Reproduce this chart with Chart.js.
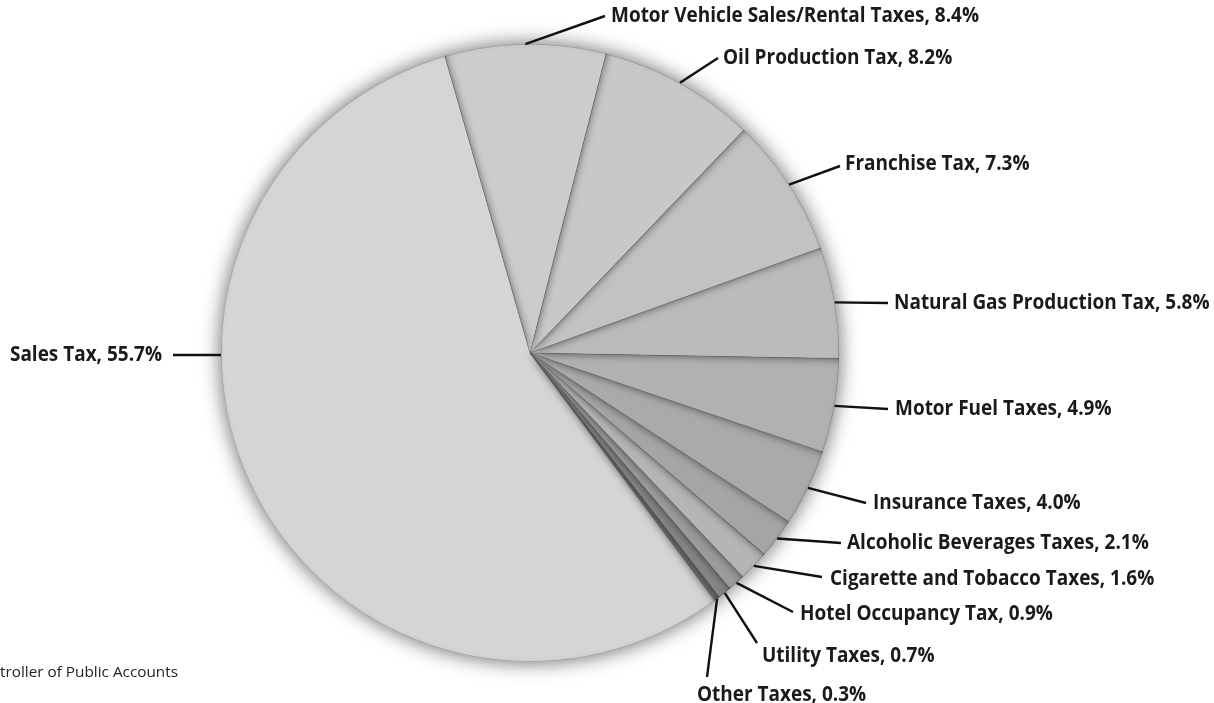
<!DOCTYPE html>
<html>
<head>
<meta charset="utf-8">
<script src="https://cdn.jsdelivr.net/npm/chart.js@4"></script>
<style>
  html, body { margin: 0; padding: 0; background: #ffffff; }
  #wrap { width: 1214px; height: 703px; }
</style>
</head>
<body>
<div id="wrap"><canvas id="pie" width="1214" height="703"></canvas></div>
<script>
// Tax revenue shares, clockwise from the top
const categories = [
  'Motor Vehicle Sales/Rental Taxes',
  'Oil Production Tax',
  'Franchise Tax',
  'Natural Gas Production Tax',
  'Motor Fuel Taxes',
  'Insurance Taxes',
  'Alcoholic Beverages Taxes',
  'Cigarette and Tobacco Taxes',
  'Hotel Occupancy Tax',
  'Utility Taxes',
  'Other Taxes',
  'Sales Tax'
];
const shares = [8.4, 8.2, 7.3, 5.8, 4.9, 4.0, 2.1, 1.6, 0.9, 0.7, 0.3, 55.7];
const sliceColors = [
  '#cbcccc', '#c7c8c8', '#c1c2c3', '#babbbc', '#b0b1b2', '#a9aaab',
  '#a4a5a6', '#b4b5b5', '#9a9b9c', '#858686', '#6b6c6c', '#d4d5d5'
];
// Callout layout: [lineEndX, lineEndY, textX, textY, align, attach]
// attach 'mid' = slice mid-angle on the rim, 'level' = rim point at the text's height
const calloutAnchors = [
  [605, 16, 611, 16, 'left', 'mid'],
  [718, 58, 723, 58, 'left', 'mid'],
  [840, 166, 845, 164, 'left', 'mid'],
  [888, 303, 894, 303, 'left', 'mid'],
  [888, 409, 895, 409, 'left', 'mid'],
  [866, 503, 873, 503, 'left', 'mid'],
  [841, 543, 847, 543, 'left', 'mid'],
  [822, 577, 830, 579, 'left', 'mid'],
  [793, 612, 800, 614, 'left', 'mid'],
  [757, 643, 762, 656, 'left', 'mid'],
  [707, 677, 697, 695, 'left', 'mid'],
  [173, 355, 162, 355, 'right', 'level']
];
const sourceNote = 'troller of Public Accounts';

const LABEL_FAMILY = '"Open Sans", "Noto Sans", sans-serif';
const LABEL_SIZE = 22;

function arcGeom(chart) {
  return chart.getDatasetMeta(0).data.map(a =>
    a.getProps(['x', 'y', 'startAngle', 'endAngle', 'outerRadius'], true));
}

function calloutText(i) {
  return categories[i] + ', ' + shares[i].toFixed(1) + '%';
}

const pieDecor = {
  id: 'pieDecor',
  beforeDatasetsDraw(chart) {
    const arcs = arcGeom(chart);
    if (!arcs.length) return;
    const { x, y, outerRadius } = arcs[0];
    const ctx = chart.ctx;
    // soft shadow around the whole pie
    ctx.save();
    ctx.shadowColor = 'rgba(0,0,0,0.6)';
    ctx.shadowBlur = 20;
    ctx.fillStyle = '#cfd0d0';
    ctx.beginPath();
    ctx.arc(x, y, outerRadius, 0, Math.PI * 2);
    ctx.fill();
    ctx.restore();
  },
  afterDatasetsDraw(chart) {
    const arcs = arcGeom(chart);
    const ctx = chart.ctx;
    // inner shadow along the leading edge of every slice
    arcs.forEach(a => {
      ctx.save();
      ctx.beginPath();
      ctx.moveTo(a.x, a.y);
      ctx.arc(a.x, a.y, a.outerRadius, a.startAngle, a.endAngle);
      ctx.closePath();
      ctx.clip();
      const R = a.outerRadius + 40;
      const s = a.startAngle;
      ctx.shadowColor = 'rgba(0,0,0,0.55)';
      ctx.shadowBlur = 9;
      ctx.fillStyle = '#000';
      ctx.beginPath();
      ctx.moveTo(a.x, a.y);
      ctx.lineTo(a.x + Math.cos(s) * R, a.y + Math.sin(s) * R);
      ctx.lineTo(a.x + Math.cos(s - 0.4) * R, a.y + Math.sin(s - 0.4) * R);
      ctx.closePath();
      ctx.fill();
      ctx.restore();
      // fine dividing line
      ctx.save();
      ctx.strokeStyle = 'rgba(90,90,90,0.45)';
      ctx.lineWidth = 0.8;
      ctx.beginPath();
      ctx.moveTo(a.x, a.y);
      ctx.lineTo(a.x + Math.cos(s) * a.outerRadius, a.y + Math.sin(s) * a.outerRadius);
      ctx.stroke();
      ctx.restore();
    });
    // rim darkening
    if (arcs.length) {
      const a = arcs[0];
      ctx.save();
      ctx.beginPath();
      ctx.arc(a.x, a.y, a.outerRadius, 0, Math.PI * 2);
      ctx.clip();
      ctx.shadowColor = 'rgba(0,0,0,0.35)';
      ctx.shadowBlur = 5;
      ctx.strokeStyle = 'rgba(0,0,0,0.25)';
      ctx.lineWidth = 1.5;
      ctx.beginPath();
      ctx.arc(a.x, a.y, a.outerRadius, 0, Math.PI * 2);
      ctx.stroke();
      ctx.restore();
    }
    // callouts, condensed so the longest one spans its usual width
    ctx.save();
    ctx.font = 'bold ' + LABEL_SIZE + 'px ' + LABEL_FAMILY;
    const squeeze = 368 / ctx.measureText(calloutText(0)).width;
    ctx.fillStyle = '#1a1a1a';
    ctx.strokeStyle = '#111111';
    ctx.lineWidth = 2.4;
    ctx.textBaseline = 'middle';
    arcs.forEach((a, i) => {
      const [lx, ly, tx, ty, align, attach] = calloutAnchors[i];
      let sx, sy;
      if (attach === 'level') {
        const dy = ly - a.y;
        const dx = Math.sqrt(Math.max(0, a.outerRadius * a.outerRadius - dy * dy));
        sx = lx < a.x ? a.x - dx : a.x + dx;
        sy = ly;
      } else {
        const mid = (a.startAngle + a.endAngle) / 2;
        sx = a.x + Math.cos(mid) * a.outerRadius;
        sy = a.y + Math.sin(mid) * a.outerRadius;
      }
      ctx.beginPath();
      ctx.moveTo(sx, sy);
      ctx.lineTo(lx, ly);
      ctx.stroke();
      ctx.save();
      ctx.translate(tx, ty);
      ctx.scale(squeeze, 1);
      ctx.textAlign = align;
      ctx.fillText(calloutText(i), 0, 0);
      ctx.restore();
    });
    // source note
    ctx.font = '14px ' + LABEL_FAMILY;
    const nw = ctx.measureText(sourceNote).width;
    ctx.translate(0, 673);
    ctx.scale(178 / nw, 1);
    ctx.fillStyle = '#222222';
    ctx.textAlign = 'left';
    ctx.fillText(sourceNote, 0, 0);
    ctx.restore();
  }
};

new Chart(document.getElementById('pie'), {
  type: 'pie',
  data: {
    labels: categories,
    datasets: [{
      data: shares,
      backgroundColor: sliceColors,
      borderWidth: 0,
      hoverOffset: 0
    }]
  },
  options: {
    responsive: false,
    animation: false,
    rotation: -16,
    layout: { padding: { left: 221, right: 375, top: 44, bottom: 41 } },
    plugins: {
      legend: { display: false },
      tooltip: { enabled: false }
    }
  },
  plugins: [pieDecor]
});
</script>
</body>
</html>
